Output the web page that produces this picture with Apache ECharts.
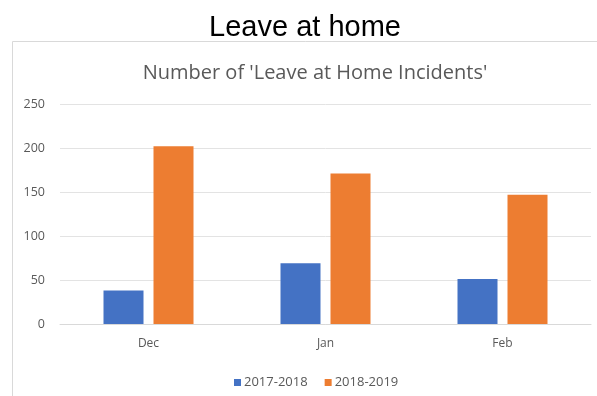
<!DOCTYPE html>
<html>
<head>
<meta charset="utf-8">
<script src="https://cdn.jsdelivr.net/npm/echarts@6/dist/echarts.min.js"></script>
<style>
  html, body { margin: 0; padding: 0; background: #fff; }
  #main { width: 597px; height: 396px; }
</style>
</head>
<body>
<div id="main"></div>
<script>
// data
var months = ['Dec', 'Jan', 'Feb'];
var seasonNames = ['2017-2018', '2018-2019'];
var season1718 = [38, 69, 51];
var season1819 = [202, 171, 147];

var chart = echarts.init(document.getElementById('main'));

var option = {
	animation: false,
	title: [
		{
			text: 'Leave at home',
			left: 300,
			textAlign: 'center',
			top: 8,
			textStyle: { fontFamily: 'Liberation Sans', fontSize: 29, fontWeight: 'normal', color: '#000' }
		},
		{
			text: "Number of 'Leave at Home Incidents'",
			left: 310,
			textAlign: 'center',
			top: 58,
			textStyle: { fontFamily: 'Open Sans', fontSize: 20, fontWeight: 'normal', color: '#595959' }
		}
	],
	graphic: [{
		type: 'rect',
		shape: { x: 12.5, y: 41.5, width: 600, height: 400 },
		style: { fill: 'none', stroke: '#d9d9d9', lineWidth: 1 },
		z: -1
	}],
	legend: {
		data: seasonNames,
		left: 229,
		top: 371,
		itemWidth: 7,
		itemHeight: 7,
		itemGap: 17,
		icon: 'rect',
		textStyle: { fontFamily: 'Open Sans', fontSize: 13, color: '#595959', padding: [0, 0, 0, -2] }
	},
	grid: {
		left: 60,
		right: 6,
		top: 104,
		bottom: 72
	},
	xAxis: {
		type: 'category',
		data: months,
		axisLine: { lineStyle: { color: '#d9d9d9' } },
		axisTick: { show: false },
		axisLabel: { fontFamily: 'Open Sans', fontSize: 12, color: '#595959', margin: 14 }
	},
	yAxis: {
		type: 'value',
		min: 0,
		max: 250,
		interval: 50,
		axisLine: { show: false },
		axisTick: { show: false },
		axisLabel: { fontFamily: 'Open Sans', fontSize: 12.5, color: '#595959', margin: 15 },
		splitLine: { lineStyle: { color: '#e3e3e3' } }
	},
	series: [
		{
			name: seasonNames[0],
			type: 'bar',
			color: '#4472C4',
			barWidth: 40,
			barGap: '25%',
			data: season1718
		},
		{
			name: seasonNames[1],
			type: 'bar',
			color: '#ED7D31',
			barWidth: 40,
			barGap: '25%',
			data: season1819
		}
	]
};

chart.setOption(option);
</script>
</body>
</html>
